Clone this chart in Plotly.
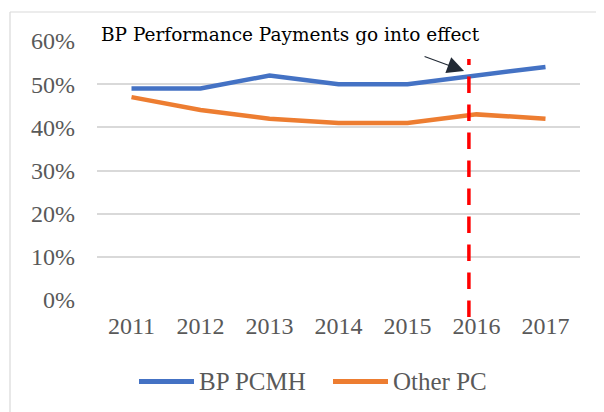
import plotly.graph_objects as go

years = ["2011", "2012", "2013", "2014", "2015", "2016", "2017"]
bp_pcmh = [0.49, 0.49, 0.52, 0.50, 0.50, 0.52, 0.54]
other_pc = [0.47, 0.44, 0.42, 0.41, 0.41, 0.43, 0.42]
y_ticks = [0, 0.1, 0.2, 0.3, 0.4, 0.5, 0.6]
series_names = ["BP PCMH", "Other PC"]
series_colors = ["#4472C4", "#ED7D31"]
annotation_text = "BP Performance Payments go into effect"

tick_font = dict(family="Liberation Serif", size=24, color="#595959")

fig = go.Figure()
for name, vals, col in zip(series_names, [bp_pcmh, other_pc], series_colors):
    fig.add_trace(go.Scatter(x=years, y=vals, mode="lines", name=name,
                             line=dict(color=col, width=4.5), showlegend=False))

OFF = 8  # page body margin
WIN_W, WIN_H = 604, 412
W, H = WIN_W - OFF, WIN_H - OFF
plot_left, plot_right, plot_top, plot_bottom = 97, 580, 41, 300  # window coords
ml, mr = plot_left - OFF, WIN_W - plot_right
mt, mb = plot_top - OFF, WIN_H - plot_bottom
pw, ph = plot_right - plot_left, plot_bottom - plot_top

def px(x):
    return (x - plot_left) / pw

def py(y):
    return (plot_bottom - y) / ph

shapes = [
    # chart frame (left and top edges)
    dict(type="line", xref="paper", yref="paper", x0=px(10), x1=px(10), y0=py(12), y1=py(430),
         line=dict(color="#d9d9d9", width=1.2)),
    dict(type="line", xref="paper", yref="paper", x0=px(10), x1=px(620), y0=py(12), y1=py(12),
         line=dict(color="#d9d9d9", width=1.2)),
    # red dashed marker
    dict(type="line", xref="x", yref="paper", x0=4.89, x1=4.89, y0=py(317), y1=py(59),
         line=dict(color="#FF0000", width=3.5, dash="16.5px,11.5px")),
]
annotations = [
    dict(text=annotation_text, xref="paper", yref="paper", x=px(99), y=py(34),
         xanchor="left", yanchor="middle", showarrow=False,
         font=dict(family="DejaVu Serif", size=18.5, color="#000000")),
    dict(text="", xref="x", yref="y", x=4.82, y=0.5305, ax=-41, ay=-15,
         showarrow=True, arrowhead=2, arrowsize=2.8, arrowwidth=1.2,
         arrowcolor="#222a35", standoff=0),
]
# manual legend
leg_y = py(381.5)
for (x0, x1, xt), name, col in zip([(139, 194, 197), (333, 388, 391)], series_names, series_colors):
    shapes.append(dict(type="line", xref="paper", yref="paper", x0=px(x0), x1=px(x1),
                       y0=leg_y, y1=leg_y, line=dict(color=col, width=5)))
    annotations.append(dict(text=name, xref="paper", yref="paper", x=px(xt), y=leg_y,
                            xanchor="left", yanchor="middle", showarrow=False,
                            font=dict(family="Liberation Serif", size=25, color="#595959")))

fig.update_layout(
    width=W, height=H,
    margin=dict(l=ml, r=mr, t=mt, b=mb, pad=0),
    paper_bgcolor="white", plot_bgcolor="white",
    shapes=shapes, annotations=annotations,
    xaxis=dict(type="category", range=[-0.5, 6.5], showgrid=False, showline=False,
               zeroline=False, ticks="", tickfont=tick_font, ticklabelstandoff=9),
    yaxis=dict(range=[0, 0.6], tickvals=y_ticks, tickformat=".0%", showgrid=True,
               gridcolor="#d9d9d9", gridwidth=1.5, zeroline=False, showline=False,
               ticks="", tickfont=tick_font, ticklabelstandoff=21),
)

fig.write_html("out.html")
